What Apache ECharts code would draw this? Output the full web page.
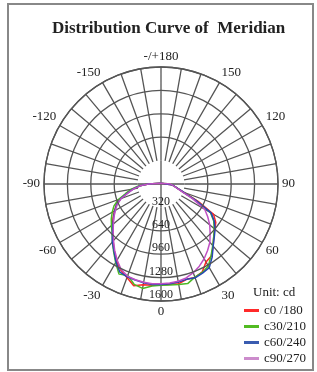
<!DOCTYPE html>
<html>
<head>
<meta charset="utf-8">
<script src="https://cdn.jsdelivr.net/npm/echarts@6/dist/echarts.min.js"></script>
<style>
  html, body { margin: 0; padding: 0; background: #fff; }
  #chart { width: 317px; height: 372px; }
</style>
</head>
<body>
<div id="chart"></div>
<script>
// measuring angles (deg, 0 = straight down, positive to the right)
const angles = [-180, -90, -85, -80, -75, -70, -65, -60, -55, -50, -45, -40, -35, -30, -25, -20, -15, -10, -5,
  0, 5, 10, 15, 20, 25, 30, 35, 40, 45, 50, 55, 60, 65, 70, 75, 80, 85, 90, 180];

// intensity in cd for each C-plane
const c0 = [10, 175, 290, 390, 480, 590, 675, 735, 800, 865, 930, 1020, 1115, 1215, 1300, 1360, 1440, 1400, 1390,
  1380, 1375, 1385, 1350, 1360, 1330, 1230, 1200, 1110, 1020, 960, 915, 830, 560, 330, 240, 190, 160, 135, 10];
const c30 = [10, 180, 310, 410, 500, 620, 710, 770, 830, 885, 945, 1035, 1130, 1240, 1360, 1330, 1420, 1450, 1400,
  1385, 1385, 1395, 1410, 1355, 1335, 1295, 1195, 1100, 1020, 950, 880, 780, 520, 320, 235, 188, 160, 135, 10];
const c60 = [10, 175, 290, 385, 470, 585, 670, 730, 790, 860, 940, 1035, 1120, 1230, 1330, 1350, 1360, 1370, 1380,
  1375, 1370, 1360, 1350, 1365, 1345, 1320, 1220, 1110, 1030, 965, 890, 790, 520, 330, 240, 190, 160, 140, 10];
const c90 = [10, 170, 285, 380, 465, 580, 660, 720, 785, 850, 925, 1010, 1105, 1200, 1290, 1340, 1355, 1365, 1370,
  1365, 1360, 1350, 1330, 1290, 1240, 1180, 1110, 1040, 950, 870, 780, 690, 480, 310, 230, 185, 158, 135, 10];

const seriesNames = ["c0 /180", "c30/210", "c60/240", "c90/270"];
const seriesValues = [c0, c30, c60, c90];
const seriesColors = ["#ff2424", "#4cb824", "#2646b4", "#c050c4"];
const legendColors = ["#ff2a2a", "#52bb22", "#3a5cb0", "#cc8ccc"];

const radiusMax = 1600;
const radiusStep = 320;

const gridColor = "#555";
const serif = "'Liberation Serif', 'DejaVu Serif', serif";

const center = [161, 184];
const outerR = 117;
const hubR = outerR * radiusStep / radiusMax;

const chart = echarts.init(document.getElementById("chart"));

const angleLabel = (v) => {
  if (v === 360) return "";
  if (v === 180) return "-/+180";
  return v > 180 ? String(v - 360) : String(v);
};

const curves = seriesValues.map((vals, i) => ({
  name: seriesNames[i],
  type: "line",
  coordinateSystem: "polar",
  polarIndex: 0,
  showSymbol: false,
  clip: false,
  z: 3,
  lineStyle: { color: seriesColors[i], width: 1.5 },
  itemStyle: { color: legendColors[i] },
  data: angles.map((a, j) => [vals[j], (a + 360) % 360]),
}));

// shared angle settings: 0 at the bottom, counting up to the right
const angleBase = {
  type: "value",
  min: 0,
  max: 360,
  startAngle: 270,
  clockwise: false,
  axisTick: { show: false },
};

chart.setOption({
  backgroundColor: "#fff",
  animation: false,
  title: [
    {
      text: "Distribution Curve of  Meridian",
      left: 52,
      top: 20,
      padding: 0,
      textStyle: { fontFamily: serif, fontWeight: "bold", fontSize: 17, color: "#222" },
    },
    {
      text: "Unit: cd",
      left: 253,
      top: 286,
      padding: 0,
      textStyle: { fontFamily: serif, fontWeight: "normal", fontSize: 13, color: "#222" },
    },
  ],
  graphic: [
    {
      type: "rect",
      silent: true,
      shape: { x: 8, y: 4, width: 305, height: 366 },
      style: { fill: null, stroke: "#888", lineWidth: 2 },
    },
  ],
  legend: {
    orient: "vertical",
    left: 244,
    top: 304,
    padding: 0,
    itemWidth: 15,
    itemHeight: 3,
    itemGap: 3,
    icon: "rect",
    selectedMode: false,
    textStyle: { fontFamily: serif, fontSize: 13, color: "#222" },
    data: seriesNames.map((n, i) => ({ name: n, itemStyle: { color: legendColors[i] } })),
  },
  polar: [
    { center: center, radius: [0, outerR] },     // data, rings, labels
    { center: center, radius: [hubR, outerR] },  // 10° spokes outside the hub
    { center: center, radius: [0, hubR] },       // cross through the hub
  ],
  angleAxis: [
    {
      ...angleBase,
      polarIndex: 0,
      interval: 30,
      axisLine: { lineStyle: { color: gridColor, width: 1.3 } },
      splitLine: { show: false },
      axisLabel: {
        margin: 4,
        formatter: angleLabel,
        fontFamily: serif,
        fontSize: 13,
        color: "#222",
      },
    },
    {
      ...angleBase,
      polarIndex: 1,
      interval: 10,
      axisLine: { show: false },
      axisLabel: { show: false },
      splitLine: { lineStyle: { color: gridColor, width: 1.3 } },
    },
    {
      ...angleBase,
      polarIndex: 2,
      interval: 90,
      axisLine: { show: false },
      axisLabel: { show: false },
      splitLine: { lineStyle: { color: gridColor, width: 1.3 } },
    },
  ],
  radiusAxis: [
    {
      polarIndex: 0,
      type: "value",
      min: 0,
      max: radiusMax,
      interval: radiusStep,
      axisLine: { show: false },
      axisTick: { show: false },
      splitLine: {
        lineStyle: {
          color: ["rgba(0,0,0,0)", "rgba(0,0,0,0)", gridColor, gridColor, gridColor, gridColor],
          width: 1.3,
        },
      },
      axisLabel: {
        margin: 0,
        align: "center",
        verticalAlign: "bottom",
        formatter: (v) => (v === 0 ? "" : String(v)),
        fontFamily: serif,
        fontSize: 12,
        color: "#222",
      },
      z: 4,
    },
    { polarIndex: 1, type: "value", min: 0, max: 1, show: false },
    { polarIndex: 2, type: "value", min: 0, max: 1, show: false },
  ],
  series: curves,
});
</script>
</body>
</html>
